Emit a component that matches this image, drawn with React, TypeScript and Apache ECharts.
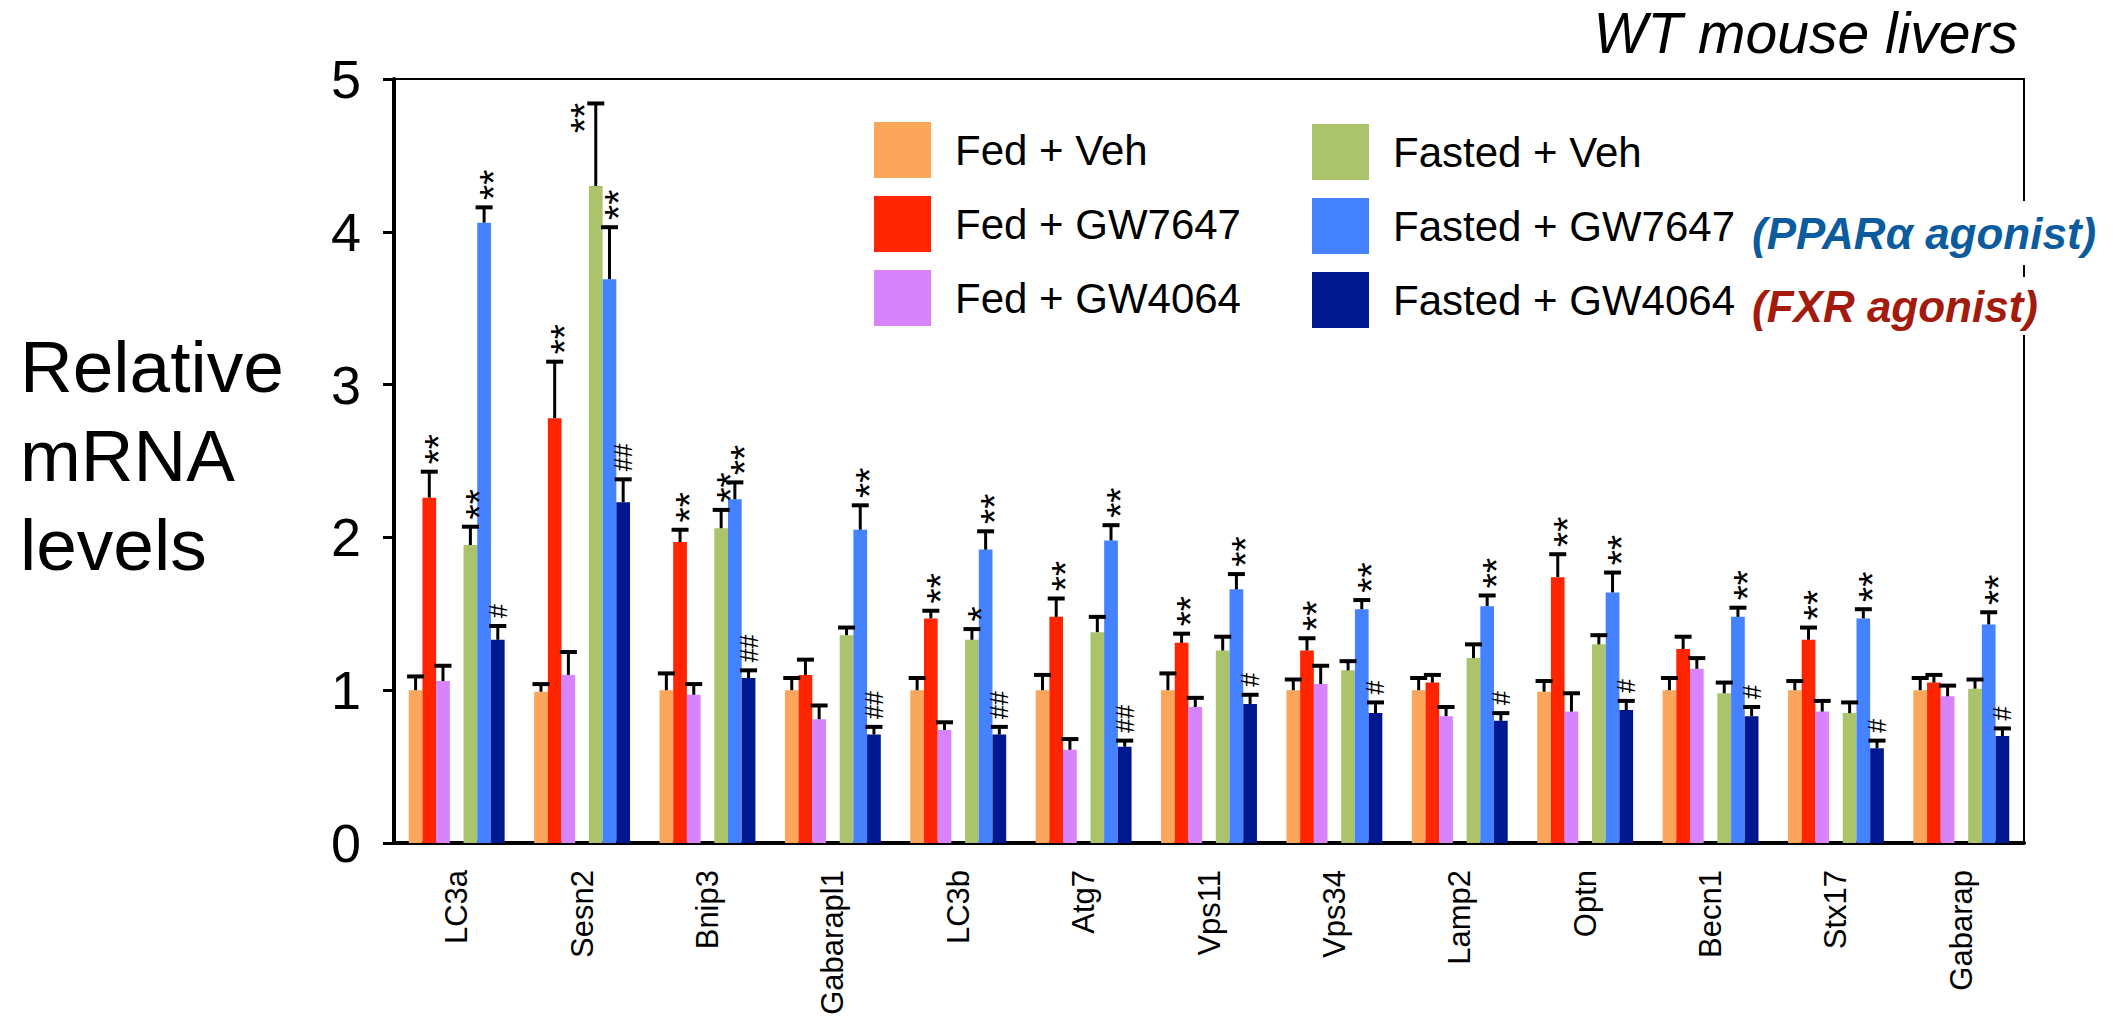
import React, { useEffect, useRef } from "react";
import * as echarts from "echarts";

const FONT = "'Liberation Sans', Arial, Helvetica, sans-serif";

const genes = ["LC3a", "Sesn2", "Bnip3", "Gabarapl1", "LC3b", "Atg7", "Vps11", "Vps34", "Lamp2", "Optn", "Becn1", "Stx17", "Gabarap"];
const yTicks = [0, 1, 2, 3, 4, 5];

const fedVeh = [1.0, 0.99, 1.0, 1.0, 1.0, 1.0, 1.0, 1.0, 1.0, 0.99, 1.0, 1.0, 1.0];
const fedVehErr = [0.09, 0.05, 0.11, 0.08, 0.08, 0.1, 0.11, 0.07, 0.08, 0.07, 0.08, 0.06, 0.08];

const fedGW7647 = [2.26, 2.78, 1.97, 1.1, 1.47, 1.48, 1.31, 1.26, 1.05, 1.74, 1.27, 1.33, 1.05];
const fedGW7647Err = [0.17, 0.37, 0.08, 0.1, 0.05, 0.12, 0.06, 0.08, 0.05, 0.15, 0.08, 0.08, 0.05];

const fedGW4064 = [1.06, 1.1, 0.97, 0.81, 0.74, 0.61, 0.89, 1.04, 0.83, 0.86, 1.14, 0.86, 0.96];
const fedGW4064Err = [0.1, 0.15, 0.07, 0.09, 0.05, 0.07, 0.06, 0.12, 0.06, 0.12, 0.07, 0.07, 0.07];

const fastedVeh = [1.95, 4.3, 2.06, 1.36, 1.33, 1.38, 1.26, 1.13, 1.21, 1.3, 0.98, 0.85, 1.01];
const fastedVehErr = [0.12, 0.54, 0.12, 0.05, 0.07, 0.1, 0.09, 0.06, 0.09, 0.06, 0.07, 0.07, 0.06];

const fastedGW7647 = [4.06, 3.69, 2.25, 2.05, 1.92, 1.98, 1.66, 1.53, 1.55, 1.64, 1.48, 1.47, 1.43];
const fastedGW7647Err = [0.1, 0.34, 0.11, 0.16, 0.12, 0.1, 0.1, 0.06, 0.07, 0.13, 0.06, 0.06, 0.08];

const fastedGW4064 = [1.33, 2.23, 1.08, 0.71, 0.71, 0.63, 0.91, 0.85, 0.8, 0.87, 0.83, 0.62, 0.7];
const fastedGW4064Err = [0.09, 0.15, 0.05, 0.05, 0.05, 0.04, 0.06, 0.07, 0.05, 0.06, 0.06, 0.05, 0.05];

const sigFedGW7647 = ["**", "**", "**", "", "**", "**", "**", "**", "", "**", "", "**", ""];
const sigFastedVeh = ["**", "**", "**", "", "*", "", "", "", "", "", "", "", ""];
const sigFastedGW7647 = ["**", "**", "**", "**", "**", "**", "**", "**", "**", "**", "**", "**", "**"];
const sigFastedGW4064 = ["#", "##", "##", "##", "##", "##", "#", "#", "#", "#", "#", "#", "#"];
const noSig = genes.map(() => "");

const groupNames = ["Fed + Veh", "Fed + GW7647", "Fed + GW4064", "Fasted + Veh", "Fasted + GW7647", "Fasted + GW4064"];
const groupColors = ["#FBA65B", "#FF2500", "#D783FC", "#ABC46B", "#4482FF", "#00188F"];

const BAR_W = 13.7;
const GRID_TOP = 79;

function barSeries(name: string, data: (number | null)[], color: string) {
  return {
    type: "bar",
    name,
    data,
    barWidth: BAR_W,
    barGap: "0%",
    itemStyle: { color },
    z: 2,
  };
}

function errSeries(name: string, means: number[], errs: number[], sigs: string[], slot: number) {
  return {
    type: "custom",
    name: "err " + name,
    coordinateSystem: "cartesian2d",
    clip: false,
    z: 5,
    data: means.map((m, i) => [i, m, errs[i]]),
    encode: { x: 0, y: 1 },
    renderItem: (params: any, api: any) => {
      const cat = api.value(0);
      const m = api.value(1);
      const e = api.value(2);
      const base = api.coord([cat, m]);
      const cx = base[0] + (slot - 3) * BAR_W;
      const yTop = base[1];
      const yCap = api.coord([cat, m + e])[1];
      const children: any[] = [
        { type: "line", shape: { x1: cx, y1: yTop, x2: cx, y2: yCap }, style: { stroke: "#000", lineWidth: 3 } },
        { type: "line", shape: { x1: cx - 8.5, y1: yCap, x2: cx + 8.5, y2: yCap }, style: { stroke: "#000", lineWidth: 4 } },
      ];
      const txt = sigs[params.dataIndex];
      if (txt) {
        const isStar = txt.indexOf("*") >= 0;
        const fs = isStar ? 39 : 25;
        const len = txt.length * (isStar ? 14.5 : 13.9);
        const dx = isStar ? 0.24 * fs : 0;
        let lx = cx + dx;
        let ly = yCap - 8 - len / 2;
        if (yCap - 8 - len < GRID_TOP) {
          lx = cx - 21 + dx;
          ly = yCap + len / 2;
        }
        children.push({
          type: "text",
          x: lx,
          y: ly,
          rotation: Math.PI / 2,
          style: {
            text: txt,
            fontSize: fs,
            fontFamily: FONT,
            fill: "#000",
            align: "center",
            verticalAlign: "middle",
          },
        });
      }
      return { type: "group", children };
    },
  };
}

export default function App() {
  const ref = useRef<HTMLDivElement>(null);
  useEffect(() => {
    if (!ref.current) return;
    const chart = echarts.init(ref.current, null, { renderer: "svg" });
    const empty = genes.map(() => null);
    const option: any = {
      animation: false,
      backgroundColor: "#fff",
      grid: {
        left: 394,
        top: GRID_TOP,
        width: 1630,
        height: 764,
        show: true,
        borderColor: "#000",
        borderWidth: 2,
        backgroundColor: "transparent",
      },
      xAxis: {
        type: "category",
        data: genes,
        axisLine: { lineStyle: { color: "#000", width: 4 } },
        axisTick: { show: false },
        axisLabel: { rotate: 90, interval: 0, fontSize: 31, color: "#000", margin: 27, fontFamily: FONT },
        splitLine: { show: false },
      },
      yAxis: {
        type: "value",
        min: yTicks[0],
        max: yTicks[yTicks.length - 1],
        interval: 1,
        axisLine: { show: true, lineStyle: { color: "#000", width: 4 } },
        axisTick: { show: true, length: 11, lineStyle: { color: "#000", width: 3 } },
        axisLabel: { fontSize: 54, color: "#000", margin: 33, fontFamily: FONT },
        splitLine: { show: false },
      },
      legend: [
        {
          data: groupNames.slice(0, 3),
          orient: "vertical",
          left: 874,
          top: 122,
          padding: 0,
          itemWidth: 57,
          itemHeight: 56,
          itemGap: 18,
          icon: "rect",
          selectedMode: false,
          textStyle: { fontSize: 42, color: "#000", fontFamily: FONT, padding: [0, 0, 0, 19] },
        },
        {
          data: groupNames.slice(3),
          orient: "vertical",
          left: 1312,
          top: 124,
          padding: 0,
          itemWidth: 57,
          itemHeight: 56,
          itemGap: 18,
          icon: "rect",
          selectedMode: false,
          textStyle: { fontSize: 42, color: "#000", fontFamily: FONT, padding: [0, 0, 0, 19] },
        },
      ],
      graphic: [
        {
          type: "text",
          x: 2018,
          y: 33,
          z: 100,
          style: {
            text: "WT mouse livers",
            fontSize: 57,
            fontStyle: "italic",
            fontFamily: FONT,
            fill: "#000",
            align: "right",
            verticalAlign: "middle",
          },
        },
        {
          type: "text",
          x: 20,
          y: 322,
          z: 100,
          style: {
            text: "Relative\nmRNA\nlevels",
            fontSize: 73,
            lineHeight: 89,
            fontFamily: FONT,
            fill: "#000",
            align: "left",
            verticalAlign: "top",
          },
        },
        {
          type: "text",
          x: 1752,
          y: 233,
          z: 100,
          style: {
            text: "(PPARα agonist)",
            fontSize: 44,
            fontWeight: "bold",
            fontStyle: "italic",
            fontFamily: FONT,
            fill: "#0B5C9E",
            align: "left",
            verticalAlign: "middle",
            backgroundColor: "#fff",
            padding: [12, 4, 8, 0],
          },
        },
        {
          type: "text",
          x: 1752,
          y: 306,
          z: 100,
          style: {
            text: "(FXR agonist)",
            fontSize: 44,
            fontWeight: "bold",
            fontStyle: "italic",
            fontFamily: FONT,
            fill: "#A31B0C",
            align: "left",
            verticalAlign: "middle",
            backgroundColor: "#fff",
            padding: [4, 4, 10, 0],
          },
        },
      ],
      series: [
        barSeries(groupNames[0], fedVeh, groupColors[0]),
        barSeries(groupNames[1], fedGW7647, groupColors[1]),
        barSeries(groupNames[2], fedGW4064, groupColors[2]),
        barSeries("spacer", empty, "transparent"),
        barSeries(groupNames[3], fastedVeh, groupColors[3]),
        barSeries(groupNames[4], fastedGW7647, groupColors[4]),
        barSeries(groupNames[5], fastedGW4064, groupColors[5]),
        errSeries(groupNames[0], fedVeh, fedVehErr, noSig, 0),
        errSeries(groupNames[1], fedGW7647, fedGW7647Err, sigFedGW7647, 1),
        errSeries(groupNames[2], fedGW4064, fedGW4064Err, noSig, 2),
        errSeries(groupNames[3], fastedVeh, fastedVehErr, sigFastedVeh, 4),
        errSeries(groupNames[4], fastedGW7647, fastedGW7647Err, sigFastedGW7647, 5),
        errSeries(groupNames[5], fastedGW4064, fastedGW4064Err, sigFastedGW4064, 6),
      ],
    };
    chart.setOption(option);
    return () => chart.dispose();
  }, []);
  return <div ref={ref} style={{ position: "fixed", left: 0, top: 0, width: 2113, height: 1020 }} />;
}
